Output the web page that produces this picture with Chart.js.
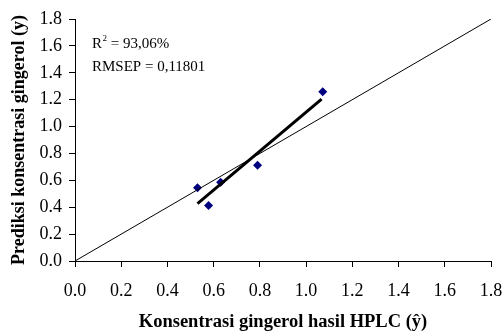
<!DOCTYPE html>
<html>
<head>
<meta charset="utf-8">
<script src="https://cdn.jsdelivr.net/npm/chart.js@4"></script>
<style>
  html, body { margin: 0; padding: 0; background: #fff; }
  #wrap { width: 503px; height: 333px; }
</style>
</head>
<body>
<div id="wrap"><canvas id="chart"></canvas></div>
<script>
// data
var hplc = [0.53, 0.578, 0.63, 0.79, 1.072];
var prediksi = [0.544, 0.412, 0.586, 0.712, 1.259];
var regX = [0.53, 1.067];
var regY = [0.427, 1.204];
var idealX = [0, 1.8];
var idealY = [0, 1.8];
var r2Text = "93,06%";
var rmsepText = "0,11801";

function pairs(xs, ys) {
    return xs.map(function(x, i) { return { x: x, y: ys[i] }; });
}

var serif = "'Liberation Serif', 'Times New Roman', serif";

// tekst R² en RMSEP linksboven
var notePlugin = {
    id: "note",
    afterDraw: function(chart) {
        var c = chart.ctx;
        c.save();
        c.fillStyle = "#000";
        c.textBaseline = "alphabetic";
        c.font = "15px " + serif;
        var x = 92, y = 48;
        c.fillText("R", x, y);
        var w = c.measureText("R").width;
        c.font = "9px " + serif;
        c.fillText("2", x + w + 0.5, y - 7);
        var w2 = c.measureText("2").width;
        c.font = "15px " + serif;
        c.fillText(" = " + r2Text, x + w + w2 + 0.5, y);
        c.fillText("RMSEP = " + rmsepText, x, 71);
        c.restore();
    }
};

var axisCommon = {
    type: "linear",
    min: 0,
    max: 1.8,
    border: { color: "#000", width: 1 },
    grid: { drawOnChartArea: false, drawTicks: true, tickLength: 6, color: "#000" }
};

new Chart(document.getElementById("chart"), {
    type: "scatter",
    data: {
        datasets: [
            {
                data: pairs(idealX, idealY),
                showLine: true,
                borderColor: "#000",
                borderWidth: 1,
                pointRadius: 0
            },
            {
                data: pairs(regX, regY),
                showLine: true,
                borderColor: "#000",
                borderWidth: 3,
                pointRadius: 0
            },
            {
                data: pairs(hplc, prediksi),
                pointStyle: "rectRot",
                pointRadius: 4.5,
                backgroundColor: "#000080",
                borderColor: "#000080",
                borderWidth: 0
            }
        ]
    },
    options: {
        responsive: true,
        maintainAspectRatio: false,
        animation: false,
        layout: { padding: { top: 19, right: 12, left: 0, bottom: 0 } },
        plugins: {
            legend: { display: false },
            tooltip: { enabled: false }
        },
        scales: {
            x: Object.assign({}, axisCommon, {
                ticks: {
                    stepSize: 0.2,
                    color: "#000",
                    padding: 13,
                    maxRotation: 0,
                    font: { family: serif, size: 18 },
                    callback: function(v) { return v.toFixed(1); }
                },
                title: {
                    display: true,
                    text: "Konsentrasi gingerol hasil HPLC (ŷ)",
                    color: "#000",
                    font: { family: serif, size: 18.5, weight: "bold" },
                    padding: { top: 0, bottom: 0 }
                },
                afterFit: function(s) {
                    s.height = 72;
                    s.paddingLeft = 0;
                    s.paddingRight = 0;
                }
            }),
            y: Object.assign({}, axisCommon, {
                ticks: {
                    stepSize: 0.2,
                    color: "#000",
                    padding: 7,
                    font: { family: serif, size: 18 },
                    callback: function(v) { return v.toFixed(1); }
                },
                title: {
                    display: true,
                    text: "Prediksi konsentrasi gingerol (y)",
                    color: "#000",
                    font: { family: serif, size: 18, weight: "bold" },
                    padding: { top: 9, bottom: 0 }
                },
                afterFit: function(s) { s.width = 75; }
            })
        }
    },
    plugins: [notePlugin]
});
</script>
</body>
</html>
